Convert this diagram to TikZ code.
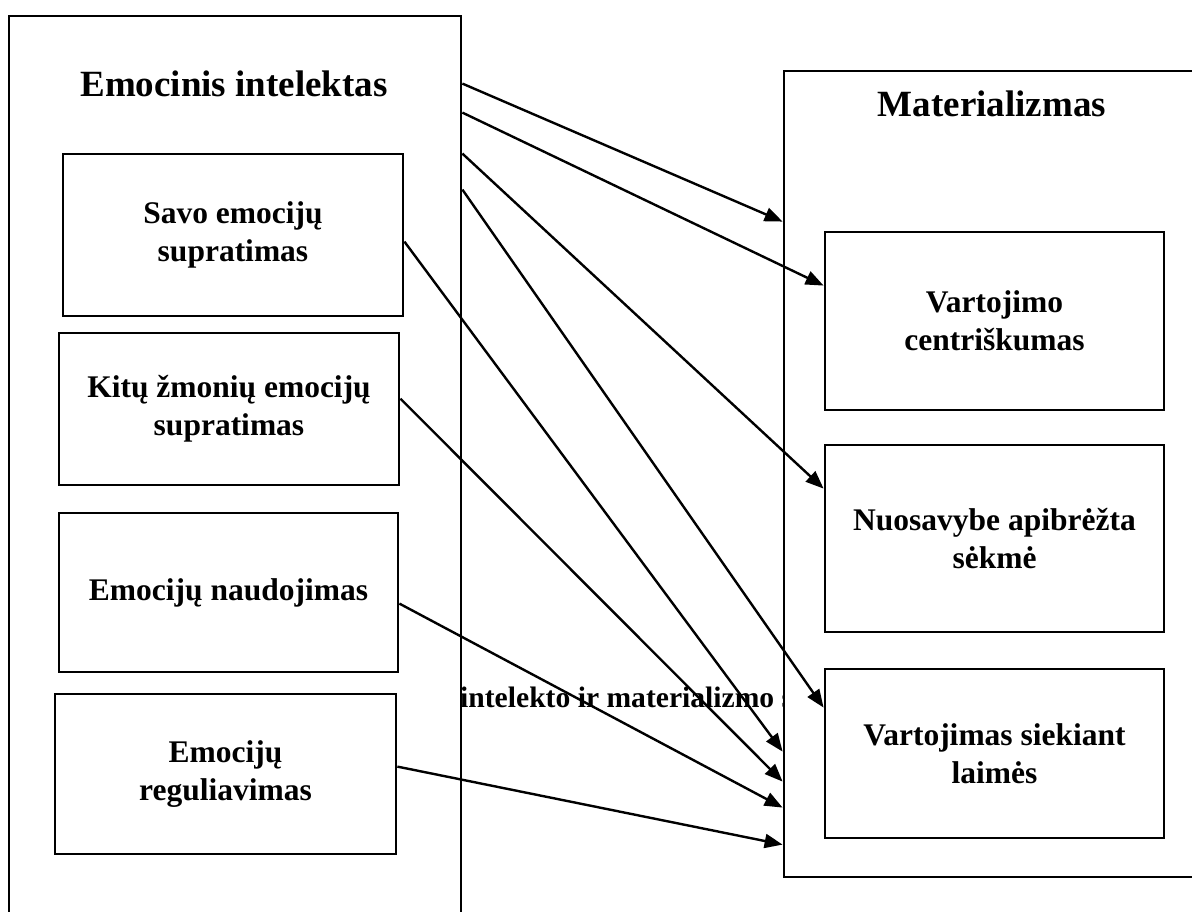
\documentclass[tikz,border=0pt]{standalone}
\usepackage{fontspec}
\setmainfont{Liberation Serif}
\usetikzlibrary{arrows.meta,calc}
\begin{document}
\begin{tikzpicture}[x=1pt,y=-1pt,
  box/.style={draw,line width=2.8pt,fill=white,inner sep=0pt,align=center,font=\fontsize{31.5}{38}\selectfont\bfseries},
  ttl/.style={font=\fontsize{37}{44}\selectfont\bfseries,inner sep=0pt},
  arr/.style={line width=2.4pt,-{Triangle[length=18pt,width=14pt]}}]
\clip (0,0) rectangle (1192,912);
\fill[white] (0,0) rectangle (1192,912);
% partially hidden middle text
\node[anchor=base west,inner sep=0pt,font=\fontsize{29.6}{36}\selectfont\bfseries] (mid) at (460,707) {intelekto ir materializmo s};
% left outer box
\node[box,minimum width=452pt,minimum height=924pt] (L) at (235,478) {};
\node[ttl] (LT) at (234,84) {Emocinis intelektas};
\node[box,minimum width=340pt,minimum height=162pt] (L1) at (233,235) {Savo emocijų\\supratimas};
\node[box,minimum width=340pt,minimum height=152pt] (L2) at (229,409) {Kitų žmonių emocijų\\supratimas};
\node[box,minimum width=339pt,minimum height=159pt] (L3) at (228.5,592.5) {Emocijų naudojimas};
\node[box,minimum width=341pt,minimum height=160pt] (L4) at (225.5,774) {Emocijų\\reguliavimas};
% right outer box
\node[box,minimum width=426pt,minimum height=806pt] (R) at (997,474) {};
\node[ttl] (RT) at (992,104) {Materializmas};
\node[box,minimum width=339pt,minimum height=178pt] (R1) at (994.5,321) {Vartojimo\\centriškumas};
\node[box,minimum width=339pt,minimum height=187pt] (R2) at (994.5,538.5) {Nuosavybe apibrėžta\\sėkmė};
\node[box,minimum width=339pt,minimum height=169pt] (R3) at (994.5,753.5) {Vartojimas siekiant\\laimės};
% arrows
\draw[arr] ($(L.north east)+(0,69)$) -- ($(R.north west)+(0,152)$);
\draw[arr] ($(L.north east)+(0,98)$) -- ($(R1.north west)+(0,55)$);
\draw[arr] ($(L.north east)+(0,139)$) -- ($(R2.north west)+(0,45)$);
\draw[arr] ($(L.north east)+(0,175)$) -- ($(R3.north west)+(0,40)$);
\draw[arr] ($(L1.north east)+(0,89)$) -- ($(R.north west)+(0,682)$);
\draw[arr] ($(L2.north east)+(0,67)$) -- ($(R.north west)+(0,712)$);
\draw[arr] ($(L3.north east)+(0,92)$) -- ($(R.north west)+(0,738)$);
\draw[arr] ($(L4.north east)+(0,74)$) -- ($(R.north west)+(0,775)$);
\end{tikzpicture}
\end{document}
